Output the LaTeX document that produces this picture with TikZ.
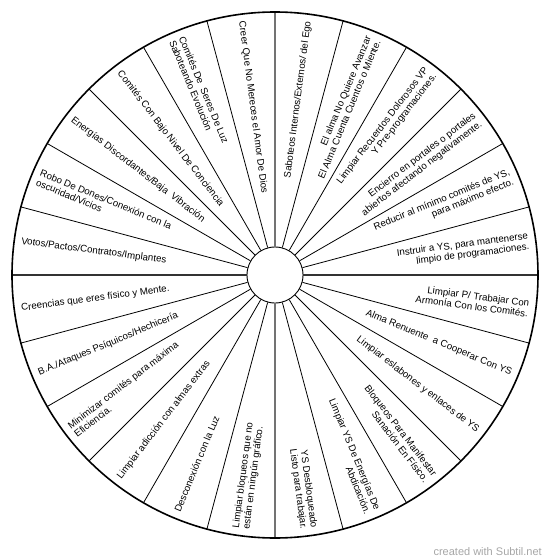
\documentclass[tikz,border=0pt]{standalone}
\usepackage{fontspec}
\setmainfont{Liberation Sans}
\usepackage{tikz}
\newcommand{\wheelfont}{\fontsize{9.7}{10.5}\selectfont}
\tikzset{
  rim/.style={draw, line width=1.6pt},
  spoke/.style={draw, line width=0.8pt},
  hline/.style={draw, line width=1.3pt, black!80},
  vline/.style={draw, line width=1.6pt, black!55},
  hub/.style={circle, draw, line width=0.9pt, minimum size=56pt, inner sep=0pt},
  outlabel/.style={anchor=east, align=right, inner sep=0pt, font=\wheelfont},
  inlabel/.style={anchor=west, align=left, inner sep=0pt, font=\wheelfont},
  stamp/.style={anchor=east, inner sep=0pt, text=black!35, font=\fontsize{11}{13}\selectfont}
}

\begin{document}
\begin{tikzpicture}[x=1pt, y=1pt]
  \useasboundingbox (-275,-285) rectangle (275,275);
  \node[hub] (hub) at (0,0) {};

  % spokes, every 15 degrees
  \foreach \a in {15,30,45,60,75,105,120,135,150,165,195,210,225,240,255,285,300,315,330,345}
    \draw[spoke] (hub.\a) -- (\a:263);
  \draw[hline] (hub.0) -- (0:263);
  \draw[hline] (hub.180) -- (180:263);
  \draw[vline] (hub.90) -- (90:263);
  \draw[vline] (hub.270) -- (270:263);
  \draw[rim] (0,0) circle (263);

  % right half, read outward
  \node[outlabel, rotate=82.5] (ego) at (82.5:256) {Saboteos Internos/Externos/ del Ego};
  \node[outlabel, rotate=67.5] (avanzar) at (67.5:256) {El alma No Quiere Avanzar\\El Alma Cuenta Cuentos o Miente.};
  \node[outlabel, rotate=52.5] (recuerdos) at (52.5:256) {Limpiar Recuerdos Dolorosos VP\\Y Pre-programaciones.};
  \node[outlabel, rotate=37.5] (portales) at (37.5:256) {Encierro en portales o portales\\abiertos afectando negativamente.};
  \node[outlabel, rotate=22.5] (reducir) at (22.5:256) {Reducir al mínimo comités de YS,\\para máximo efecto.};
  \node[outlabel, rotate=7.5] (instruir) at (7.5:256) {Instruir a YS, para mantenerse\\limpio de programaciones.};
  \node[outlabel, rotate=-7.5] (armonia) at (-7.5:256) {Limpiar P/ Trabajar Con\\Armonía Con los Comités.};
  \node[outlabel, rotate=-22.5] (renuente) at (-22.5:256) {Alma Renuente\ \ a Cooperar Con YS};
  \node[outlabel, rotate=-37.5] (eslabones) at (-37.5:256) {Limpiar eslabones y enlaces de YS};
  \node[outlabel, rotate=-52.5] (sanacion) at (-52.5:256) {Bloqueos Para Manifestar\\Sanación En Físico.};
  \node[outlabel, rotate=-67.5] (abdicacion) at (-67.5:256) {Limpiar YS De Energías De\\Abdicación.};
  \node[outlabel, rotate=-82.5] (listo) at (-82.5:256) {YS Desbloqueado\\Listo para trabajar.};

  % left half, read inward
  \node[inlabel, rotate=82.5] (grafico) at (-97.5:256) {Limpiar bloqueos que no\\están en ningún gráfico.};
  \node[inlabel, rotate=67.5] (luz) at (-112.5:256) {Desconexión con la Luz};
  \node[inlabel, rotate=52.5] (adiccion) at (-127.5:256) {Limpiar adicción con almas extras};
  \node[inlabel, rotate=37.5] (minimizar) at (-142.5:256) {Minimizar comités para máxima\\Eficiencia.};
  \node[inlabel, rotate=22.5] (ataques) at (-157.5:256) {B.A./Ataques Psíquicos/Hechicería};
  \node[inlabel, rotate=7.5] (creencias) at (-172.5:256) {Creencias que eres físico y Mente.};
  \node[inlabel, rotate=-7.5] (votos) at (172.5:256) {Votos/Pactos/Contratos/Implantes};
  \node[inlabel, rotate=-22.5] (dones) at (157.5:256) {Robo De Dones/Conexión con la\\oscuridad/Vicios};
  \node[inlabel, rotate=-37.5] (discordantes) at (142.5:256) {Energías Discordantes/Baja\ \ Vibración};
  \node[inlabel, rotate=-52.5] (conciencia) at (127.5:256) {Comités Con Bajo Nivel De Conciencia};
  \node[inlabel, rotate=-67.5] (seres) at (112.5:256) {Comités De\ \ Seres De Luz\\Saboteando Evolución};
  \node[inlabel, rotate=-82.5] (amor) at (97.5:256) {Creer Que No Mereces el Amor De Dios};

  \node[stamp] (subtil) at (267,-277) {created with Subtil.net};
\end{tikzpicture}
\end{document}
